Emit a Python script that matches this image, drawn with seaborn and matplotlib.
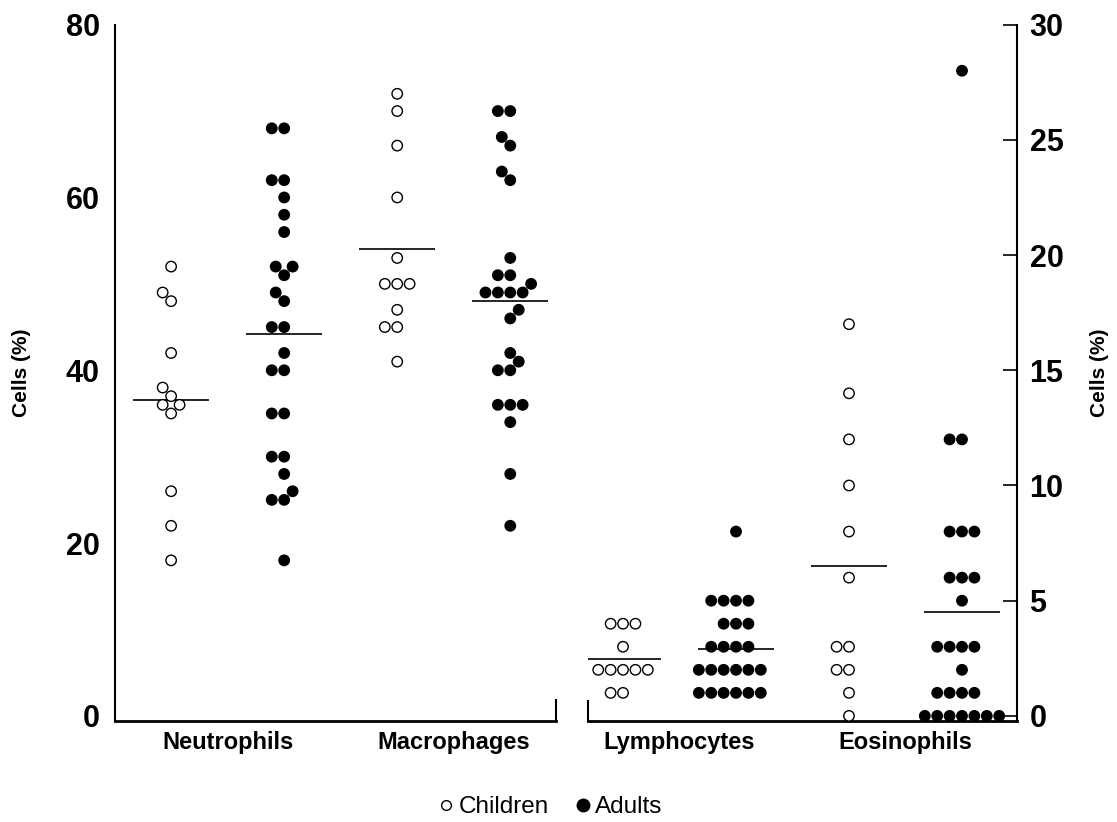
import numpy as np
import pandas as pd
import matplotlib.pyplot as plt
import seaborn as sns
from matplotlib.lines import Line2D

# Cell percentages
neutrophils_children = [52, 49, 48, 42, 38, 37, 36, 36, 35, 26, 22, 18]
neutrophils_adults = [68, 68, 62, 62, 60, 58, 56, 52, 52, 51, 49, 48, 45, 45, 42,
                      40, 40, 35, 35, 30, 30, 28, 26, 25, 25, 18]
macrophages_children = [72, 70, 66, 60, 53, 50, 50, 50, 47, 45, 45, 41]
macrophages_adults = [70, 70, 67, 66, 63, 62, 53, 51, 51, 50, 49, 49, 49, 49, 47,
                      46, 42, 41, 40, 40, 36, 36, 36, 34, 28, 22]
lymphocytes_children = [4, 4, 4, 3, 2, 2, 2, 2, 2, 1, 1]
lymphocytes_adults = [8, 5, 5, 5, 5, 4, 4, 4, 3, 3, 3, 3, 2, 2, 2, 2, 2, 2,
                      1, 1, 1, 1, 1, 1]
eosinophils_children = [17, 14, 12, 10, 8, 6, 3, 3, 2, 2, 1, 0]
eosinophils_adults = [28, 12, 12, 8, 8, 8, 6, 6, 6, 5, 3, 3, 3, 3, 2, 1, 1, 1, 1,
                      0, 0, 0, 0, 0, 0, 0]

groups = ['Children', 'Adults']
left_cells = ['Neutrophils', 'Macrophages']
right_cells = ['Lymphocytes', 'Eosinophils']
left_ticks = [0, 20, 40, 60, 80]
right_ticks = [0, 5, 10, 15, 20, 25, 30]

values = {
    ('Neutrophils', 'Children'): neutrophils_children,
    ('Neutrophils', 'Adults'): neutrophils_adults,
    ('Macrophages', 'Children'): macrophages_children,
    ('Macrophages', 'Adults'): macrophages_adults,
    ('Lymphocytes', 'Children'): lymphocytes_children,
    ('Lymphocytes', 'Adults'): lymphocytes_adults,
    ('Eosinophils', 'Children'): eosinophils_children,
    ('Eosinophils', 'Adults'): eosinophils_adults,
}

rows = []
for (cell, group), vals in values.items():
    for v in vals:
        rows.append({'Cell': cell, 'Group': group, 'Column': f'{cell} {group}', 'Value': v})
df = pd.DataFrame(rows)

sns.set_theme(style="white")
plt.rcParams['font.family'] = ['Liberation Sans', 'DejaVu Sans']
plt.rcParams.update({'text.color': 'black', 'axes.labelcolor': 'black',
                     'xtick.color': 'black', 'ytick.color': 'black'})

fig = plt.figure(figsize=(11.17, 8.22), dpi=100)
ax_l = fig.add_axes([0.103, 0.123, 0.395, 0.847])
ax_r = fig.add_axes([0.5264, 0.123, 0.3841, 0.847])

palette = {'Children': 'white', 'Adults': 'black'}


def draw_panel(ax, cells):
    sub = df[df['Cell'].isin(cells)]
    order = [f'{c} {g}' for c in cells for g in groups]
    sns.swarmplot(data=sub, x='Column', y='Value', hue='Group', order=order,
                  hue_order=groups, palette=palette, edgecolor='black',
                  linewidth=1.0, size=7.5, legend=False, ax=ax)
    # mean lines
    for i, col in enumerate(order):
        m = sub.loc[sub['Column'] == col, 'Value'].mean()
        ax.hlines(m, i - 0.335, i + 0.335, color='black', lw=1.2)
    ax.set_xticks([0.5, 2.5])
    ax.set_xticklabels(cells, fontsize=17, fontweight='bold')
    ax.tick_params(axis='x', length=0, pad=7)
    ax.set_xlabel('')
    ax.spines['top'].set_visible(False)
    for s in ax.spines.values():
        s.set_color('black')
        s.set_linewidth(1.5)
    ax.spines['bottom'].set_linewidth(2)


draw_panel(ax_l, left_cells)
draw_panel(ax_r, right_cells)

# left panel (0-80 scale)
ax_l.set_xlim(-0.496, 3.407)
ax_l.set_ylim(-0.58, 80)
ax_l.set_yticks(left_ticks)
ax_l.tick_params(axis='y', direction='in', length=13, width=1.2, labelsize=22, pad=11)
ax_l.spines['right'].set_bounds(-0.58, 1.8)
ax_l.set_ylabel('Cells (%)', fontsize=15, fontweight='bold')
ax_l.yaxis.set_label_coords(-0.19, 0.5)

# right panel (0-30 scale)
ax_r.set_xlim(-0.31, 3.487)
ax_r.set_ylim(-0.217, 30)
ax_r.yaxis.tick_right()
ax_r.yaxis.set_label_position('right')
ax_r.set_yticks(right_ticks)
ax_r.tick_params(axis='y', direction='in', length=10, width=1.2, labelsize=22, pad=9)
ax_r.spines['left'].set_bounds(-0.217, 0.65)
ax_r.set_ylabel('Cells (%)', fontsize=15, fontweight='bold')
ax_r.yaxis.set_label_coords(1.17, 0.5)

for ax in (ax_l, ax_r):
    for t in ax.get_yticklabels():
        t.set_fontweight('bold')

handles = [
    Line2D([], [], marker='o', ls='none', markerfacecolor='white',
           markeredgecolor='black', markeredgewidth=1.0, markersize=7),
    Line2D([], [], marker='o', ls='none', markerfacecolor='black',
           markeredgecolor='black', markersize=9),
]
fig.legend(handles, groups, loc='center', bbox_to_anchor=(0.492, 0.018), ncol=2,
           frameon=False, fontsize=17.5, handletextpad=0.1, columnspacing=1.0,
           handlelength=0.8, borderpad=0)

fig.savefig('out.png', dpi=100)
